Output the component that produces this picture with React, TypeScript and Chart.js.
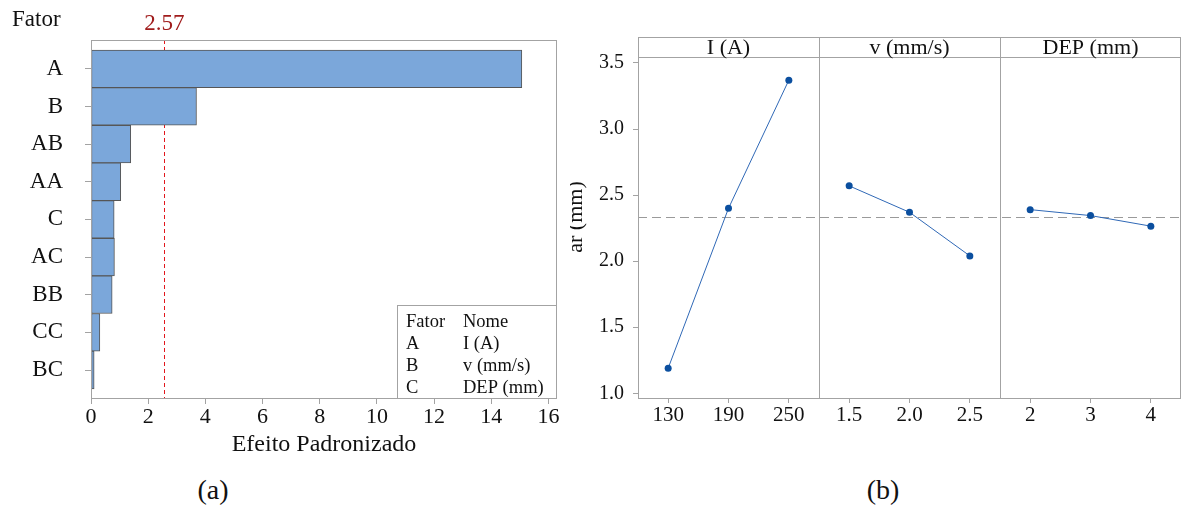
import React, { useEffect, useRef } from 'react';
import { Chart, registerables } from 'chart.js';

Chart.register(...registerables);

const FONT = '"Liberation Serif", "Times New Roman", serif';
const TEXT = '#111111';
const FRAME = '#a3a3a3';

// ---------- (a) Pareto of standardized effects ----------
const paretoTerms = ['A', 'B', 'AB', 'AA', 'C', 'AC', 'BB', 'CC', 'BC'];
const paretoEffects = [15.07, 3.69, 1.39, 1.04, 0.81, 0.82, 0.74, 0.31, 0.11];
const paretoCritical = 2.57;
const paretoCriticalLabel = '2.57';
const paretoXMax = 16.3;
const paretoXStep = 2;
const legendHeader = ['Fator', 'Nome'];
const factorCodes = ['A', 'B', 'C'];
const factorNames = ['I (A)', 'v (mm/s)', 'DEP (mm)'];

// ---------- (b) Main effects plot ----------
const panelTitles = ['I (A)', 'v (mm/s)', 'DEP (mm)'];
const levelsI = ['130', '190', '250'];
const levelsV = ['1.5', '2.0', '2.5'];
const levelsDEP = ['2', '3', '4'];
const meansI = [1.19, 2.40, 3.37];
const meansV = [2.57, 2.37, 2.04];
const meansDEP = [2.39, 2.345, 2.265];
const grandMean = 2.335;
const mainYMin = 0.957;
const mainYMax = 3.545;
const mainYStep = 0.5;
const mainYTitle = 'ar (mm)';

function withFonts(make: () => void) {
  const fonts = (document as any).fonts;
  if (fonts && fonts.load) {
    Promise.all([fonts.load(`22px "Liberation Serif"`), fonts.load(`bold 22px "Liberation Serif"`)]).then(make, make);
  } else {
    make();
  }
}

function ParetoChart() {
  const ref = useRef<HTMLCanvasElement>(null);
  useEffect(() => {
    const canvas = ref.current!;
    let chart: any = null;
    let cancelled = false;
    const overlay = {
      id: 'paretoOverlay',
      beforeDatasetsDraw(c: any) {
        const { ctx, chartArea, scales } = c;
        const x = scales.x.getPixelForValue(paretoCritical);
        ctx.save();
        ctx.strokeStyle = '#e2161c';
        ctx.lineWidth = 1;
        ctx.setLineDash([4, 3]);
        ctx.beginPath();
        ctx.moveTo(Math.round(x) + 0.5, chartArea.top);
        ctx.lineTo(Math.round(x) + 0.5, chartArea.bottom);
        ctx.stroke();
        ctx.restore();
      },
      afterDatasetsDraw(c: any) {
        const { ctx, chartArea, scales } = c;
        const x = scales.x.getPixelForValue(paretoCritical);
        ctx.save();
        ctx.strokeStyle = FRAME;
        ctx.lineWidth = 1;
        ctx.strokeRect(chartArea.left + 0.5, chartArea.top + 0.5, chartArea.right - chartArea.left - 1, chartArea.bottom - chartArea.top - 1);
        ctx.font = `23px ${FONT}`;
        ctx.textBaseline = 'alphabetic';
        ctx.fillStyle = TEXT;
        ctx.textAlign = 'left';
        ctx.fillText('Fator', 12, 26);
        ctx.fillStyle = '#a01c1c';
        ctx.textAlign = 'center';
        ctx.fillText(paretoCriticalLabel, x, 30);
        const lx = 397, ly = 305, lr = chartArea.right, lb = chartArea.bottom;
        ctx.fillStyle = '#ffffff';
        ctx.fillRect(lx, ly, lr - lx, lb - ly);
        ctx.strokeStyle = FRAME;
        ctx.strokeRect(lx + 0.5, ly + 0.5, lr - lx - 1, lb - ly - 1);
        ctx.fillStyle = TEXT;
        ctx.textAlign = 'left';
        ctx.font = `18.5px ${FONT}`;
        const rows = [legendHeader, ...factorCodes.map((cd, i) => [cd, factorNames[i]])];
        rows.forEach((r, i) => {
          const by = 327 + i * 22;
          ctx.fillText(r[0], 406, by);
          ctx.fillText(r[1], 463, by);
        });
        ctx.restore();
      },
    };
    withFonts(() => {
      if (cancelled) return;
      chart = new Chart(canvas, {
        type: 'bar',
        data: {
          datasets: [
            {
              data: paretoEffects.map((v, i) => ({ x: v, y: i })),
              backgroundColor: '#7ba7da',
              borderColor: '#565656',
              borderWidth: 1,
              borderSkipped: false,
              categoryPercentage: 1,
              barPercentage: 1,
            },
          ],
        },
        options: {
          indexAxis: 'y',
          animation: false,
          responsive: false,
          maintainAspectRatio: false,
          layout: { padding: { top: 40, right: 13, left: 0, bottom: 0 } },
          plugins: { legend: { display: false }, tooltip: { enabled: false } },
          scales: {
            x: {
              type: 'linear',
              min: 0,
              max: paretoXMax,
              offset: false,
              afterFit: (s: any) => { s.height = 61; },
              afterBuildTicks: (s: any) => {
                const t = [];
                for (let v = 0; v <= paretoXMax; v += paretoXStep) t.push({ value: v });
                s.ticks = t;
              },
              ticks: { font: { family: FONT, size: 22 }, color: TEXT, padding: 0, maxRotation: 0, autoSkip: false },
              grid: { drawOnChartArea: false, drawTicks: true, tickLength: 5, tickColor: FRAME, offset: false },
              border: { display: false },
              title: { display: true, text: 'Efeito Padronizado', font: { family: FONT, size: 24 }, color: TEXT, padding: { top: 0, bottom: 1 } },
            },
            y: {
              type: 'linear',
              reverse: true,
              offset: false,
              min: -0.765,
              max: paretoTerms.length - 1 + 0.77,
              afterFit: (s: any) => { s.width = 91; },
              afterBuildTicks: (s: any) => { s.ticks = paretoTerms.map((_, i) => ({ value: i })); },
              ticks: {
                autoSkip: false,
                font: { family: FONT, size: 23 },
                color: TEXT,
                padding: 22,
                callback: (v: any) => paretoTerms[Math.round(v)] ?? '',
              },
              grid: { drawOnChartArea: false, drawTicks: true, tickLength: 6, tickColor: FRAME, offset: false },
              border: { display: false },
            },
          },
        },
        plugins: [overlay],
      } as any);
    });
    return () => { cancelled = true; if (chart) chart.destroy(); };
  }, []);
  return <canvas ref={ref} width={570} height={460} style={{ position: 'absolute', left: 0, top: 0, width: 570, height: 460 }} />;
}

function MainEffectsChart() {
  const ref = useRef<HTMLCanvasElement>(null);
  useEffect(() => {
    const canvas = ref.current!;
    let chart: any = null;
    let cancelled = false;
    const panels = [
      { levels: levelsI, means: meansI },
      { levels: levelsV, means: meansV },
      { levels: levelsDEP, means: meansDEP },
    ];
    const allLevels = panels.flatMap((p) => p.levels);
    const perPanel = 3;
    const overlay = {
      id: 'mainOverlay',
      beforeDatasetsDraw(c: any) {
        const { ctx, chartArea, scales } = c;
        const y = Math.round(scales.y.getPixelForValue(grandMean)) + 0.5;
        ctx.save();
        ctx.strokeStyle = '#9a9a9a';
        ctx.lineWidth = 1;
        ctx.setLineDash([9, 5]);
        ctx.beginPath();
        ctx.moveTo(chartArea.left, y);
        ctx.lineTo(chartArea.right, y);
        ctx.stroke();
        ctx.restore();
      },
      afterDatasetsDraw(c: any) {
        const { ctx, chartArea, scales } = c;
        const headerTop = chartArea.top - 20;
        ctx.save();
        ctx.strokeStyle = FRAME;
        ctx.lineWidth = 1;
        ctx.strokeRect(chartArea.left + 0.5, headerTop + 0.5, chartArea.right - chartArea.left - 1, chartArea.bottom - headerTop - 1);
        ctx.beginPath();
        ctx.moveTo(chartArea.left, chartArea.top + 0.5);
        ctx.lineTo(chartArea.right, chartArea.top + 0.5);
        for (let k = 1; k < panels.length; k++) {
          const x = Math.round(scales.x.getPixelForValue(k * perPanel - 0.5)) + 0.5;
          ctx.moveTo(x, headerTop);
          ctx.lineTo(x, chartArea.bottom);
        }
        ctx.stroke();
        ctx.fillStyle = TEXT;
        ctx.font = `22px ${FONT}`;
        ctx.textAlign = 'center';
        ctx.textBaseline = 'alphabetic';
        panelTitles.forEach((t, k) => {
          const cx = scales.x.getPixelForValue(k * perPanel + 1);
          ctx.fillText(t, cx, chartArea.top - 3);
        });
        ctx.translate(6, 217);
        ctx.rotate(-Math.PI / 2);
        ctx.textBaseline = 'middle';
        ctx.fillText(mainYTitle, 0, 0);
        ctx.restore();
      },
    };
    withFonts(() => {
      if (cancelled) return;
      chart = new Chart(canvas, {
        type: 'line',
        data: {
          datasets: panels.map((p, k) => ({
            data: p.means.map((m, i) => ({ x: k * perPanel + i, y: m })),
            borderColor: '#2f68b6',
            borderWidth: 1,
            pointRadius: 3.5,
            pointBackgroundColor: '#0b4f9f',
            pointBorderWidth: 0,
            fill: false,
            tension: 0,
          })),
        },
        options: {
          animation: false,
          responsive: false,
          maintainAspectRatio: false,
          layout: { padding: { top: 57, right: 1, left: 0, bottom: 0 } },
          plugins: { legend: { display: false }, tooltip: { enabled: false } },
          scales: {
            x: {
              type: 'linear',
              min: -0.5,
              max: allLevels.length - 0.5,
              offset: false,
              afterFit: (s: any) => { s.height = 61; },
              afterBuildTicks: (s: any) => { s.ticks = allLevels.map((_, i) => ({ value: i })); },
              ticks: {
                autoSkip: false,
                maxRotation: 0,
                font: { family: FONT, size: 21 },
                color: TEXT,
                padding: 0,
                callback: (v: any) => allLevels[Math.round(v)] ?? '',
              },
              grid: { drawOnChartArea: false, drawTicks: true, tickLength: 4, tickColor: FRAME },
              border: { display: false },
            },
            y: {
              type: 'linear',
              min: mainYMin,
              max: mainYMax,
              afterFit: (s: any) => { s.width = 68; },
              afterBuildTicks: (s: any) => {
                const t = [];
                for (let v = Math.ceil(mainYMin / mainYStep) * mainYStep; v <= mainYMax + 1e-9; v += mainYStep) t.push({ value: Math.round(v * 10) / 10 });
                s.ticks = t;
              },
              ticks: {
                font: { family: FONT, size: 20 },
                color: TEXT,
                padding: 9,
                callback: (v: any) => Number(v).toFixed(1),
              },
              grid: { drawOnChartArea: false, drawTicks: true, tickLength: 5, tickColor: FRAME },
              border: { display: false },
            },
          },
        },
        plugins: [overlay],
      } as any);
    });
    return () => { cancelled = true; if (chart) chart.destroy(); };
  }, []);
  return <canvas ref={ref} width={615} height={460} style={{ position: 'absolute', left: 570, top: 0, width: 615, height: 460 }} />;
}

export default function App() {
  const cap: React.CSSProperties = { position: 'absolute', top: 472, fontFamily: FONT, fontSize: 28, color: TEXT, width: 60, textAlign: 'center', lineHeight: '36px' };
  return (
    <div style={{ position: 'absolute', left: 0, top: 0, width: 1185, height: 509, background: '#fff', overflow: 'hidden' }}>
      <ParetoChart />
      <MainEffectsChart />
      <div style={{ ...cap, left: 183 }}>(a)</div>
      <div style={{ ...cap, left: 853 }}>(b)</div>
    </div>
  );
}
